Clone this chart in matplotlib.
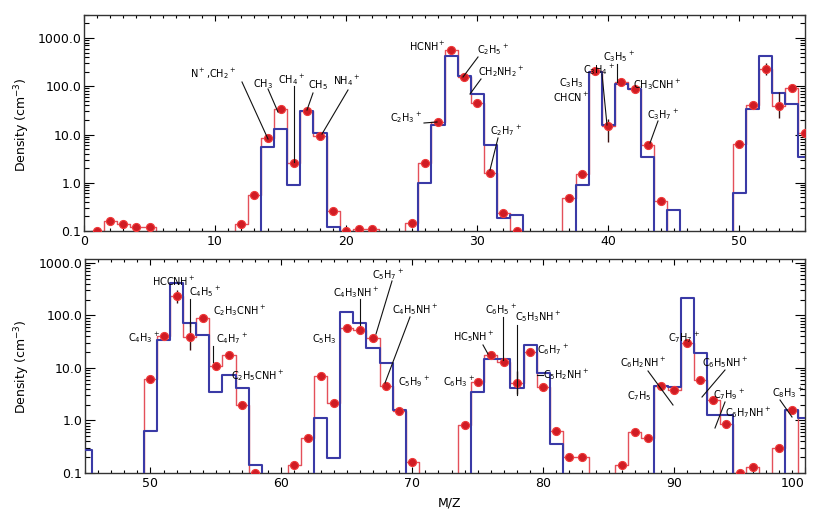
import numpy as np
import matplotlib
matplotlib.use('Agg')
import matplotlib.pyplot as plt
from matplotlib.lines import Line2D
from matplotlib.ticker import LogLocator, MultipleLocator, FuncFormatter, NullFormatter

plt.rcParams['font.family'] = ['DejaVu Sans']
plt.rcParams['mathtext.default'] = 'regular'

W, H = 813, 509

# ---- data ----
obs_mass = [1, 2, 3, 4, 5, 12, 13, 14, 15, 16, 17, 18, 19, 20, 21, 22,
            25, 26, 27, 28, 29, 30, 31, 32, 33,
            37, 38, 39, 40, 41, 42, 43, 44,
            50, 51, 52, 53, 54, 55, 56, 57, 58,
            61, 62, 63, 64, 65, 66, 67, 68, 69, 70,
            74, 75, 76, 77, 78, 79, 80, 81, 82, 83,
            86, 87, 88, 89, 90, 91, 92, 93, 94, 95, 96, 98, 99]
obs_density = [0.1, 0.16, 0.14, 0.12, 0.12, 0.14, 0.55, 8.3, 33, 2.6, 30, 9.3, 0.26, 0.1, 0.11, 0.11,
               0.15, 2.6, 18.5, 560, 155, 46, 1.6, 0.24, 0.1,
               0.49, 1.5, 205, 15, 120, 87, 6.2, 0.42,
               6.3, 40, 230, 39, 90, 11, 18, 2.0, 0.1,
               0.14, 0.46, 7.1, 2.2, 58, 53, 37, 4.5, 1.5, 0.16,
               0.82, 5.4, 18, 13, 5.2, 20, 4.4, 0.63, 0.2, 0.2,
               0.14, 0.6, 0.46, 4.6, 3.8, 30, 5.9, 2.5, 0.86, 0.1, 0.13, 0.3, 1.6]

model_mass = [14, 15, 16, 17, 18, 19,
              26, 27, 28, 29, 30, 31, 32, 33,
              38, 39, 40, 41, 42, 43, 45,
              50, 51, 52, 53, 54, 55, 56, 57, 58,
              63, 64, 65, 66, 67, 68, 69,
              75, 76, 77, 78, 79, 80, 81,
              89, 90, 91, 92, 93, 94, 99, 100]
model_density = [5.5, 13, 0.9, 30, 11, 0.12,
                 1.0, 16, 420, 160, 68, 6.2, 0.19, 0.21,
                 0.9, 200, 16, 110, 87, 3.5, 0.27,
                 0.62, 34, 420, 72, 42, 3.5, 7.5, 4.2, 0.14,
                 1.1, 0.19, 115, 72, 24, 12.5, 1.6,
                 3.5, 15, 15, 4.2, 27, 8, 0.35,
                 4.6, 4.4, 215, 19.5, 1.3, 1.3, 1.6, 1.1]

err_mass = [40, 52, 53, 78]
err_low = [7, 170, 22, 3.2]
err_high = [21, 300, 76, 8.9]

top_labels = [
    (r'N$^+$,CH$_2$$^+$', 190, 74, (242, 82, 268, 139)),
    (r'CH$_3$', 253, 84, (268, 89, 278, 112)),
    (r'CH$_4$$^+$', 278, 80, (294, 86, 294, 162)),
    (r'CH$_5$', 308, 85, (313, 93, 307, 110)),
    (r'NH$_4$$^+$', 333, 81, (348, 90, 322, 134)),
    (r'C$_2$H$_3$$^+$', 390, 118, (424, 123, 437, 122)),
    (r'HCNH$^+$', 409, 46, None),
    (r'C$_2$H$_5$$^+$', 477, 50, (478, 57, 463, 77)),
    (r'CH$_2$NH$_2$$^+$', 478, 72, (481, 79, 470, 94)),
    (r'C$_2$H$_7$$^+$', 490, 131, (498, 138, 490, 170)),
    (r'C$_3$H$_3$', 559, 83, None),
    (r'CHCN$^+$', 553, 97, None),
    (r'C$_3$H$_4$$^+$', 583, 70, (602, 74, 607, 125)),
    (r'C$_3$H$_5$$^+$', 603, 57, (617, 64, 617, 82)),
    (r'CH$_3$CNH$^+$', 633, 85, None),
    (r'C$_3$H$_7$$^+$', 647, 115, (658, 121, 650, 143)),
]
bottom_labels = [
    (r'C$_4$H$_3$$^+$', 128, 338, None),
    (r'HCCNH$^+$', 152, 281, None),
    (r'C$_4$H$_5$$^+$', 189, 292, (190, 299, 190, 326)),
    (r'C$_2$H$_3$CNH$^+$', 213, 311, None),
    (r'C$_4$H$_7$$^+$', 216, 339, (213, 346, 213, 362)),
    (r'C$_2$H$_5$CNH$^+$', 231, 376, None),
    (r'C$_5$H$_3$', 312, 339, None),
    (r'C$_4$H$_3$NH$^+$', 333, 293, (360, 299, 360, 325)),
    (r'C$_5$H$_7$$^+$', 372, 275, (392, 281, 376, 334)),
    (r'C$_4$H$_5$NH$^+$', 392, 310, (410, 317, 385, 383)),
    (r'C$_5$H$_9$$^+$', 398, 382, None),
    (r'C$_6$H$_3$$^+$', 443, 382, None),
    (r'HC$_5$NH$^+$', 453, 337, (483, 345, 488, 354)),
    (r'C$_6$H$_5$$^+$', 485, 310, (503, 317, 503, 360)),
    (r'C$_5$H$_3$NH$^+$', 515, 317, (517, 325, 517, 395)),
    (r'C$_6$H$_7$$^+$', 537, 350, None),
    (r'C$_5$H$_2$NH$^+$', 543, 375, (537, 375, 543, 375)),
    (r'C$_6$H$_2$NH$^+$', 620, 363, (648, 371, 673, 405)),
    (r'C$_7$H$_5$', 627, 396, None),
    (r'C$_7$H$_7$$^+$', 668, 338, None),
    (r'C$_6$H$_5$NH$^+$', 702, 363, (725, 370, 702, 397)),
    (r'C$_7$H$_9$$^+$', 713, 395, (725, 402, 715, 428)),
    (r'C$_6$H$_7$NH$^+$', 725, 413, None),
    (r'C$_8$H$_3$$^+$', 772, 393, (780, 400, 792, 417)),
]

# ---- figure ----
fig = plt.figure(figsize=(W / 100, H / 100), dpi=100)
ax_top = fig.add_axes([84 / W, 1 - 231 / H, 721 / W, 216 / H])
ax_bot = fig.add_axes([85 / W, 1 - 473 / H, 720 / W, 214 / H])

grid = np.arange(0, 102)


def full(ms, ds):
    arr = np.full(grid.shape, 1e-3)
    arr[np.array(ms)] = ds
    return arr


red_full = full(obs_mass, obs_density)
blue_full = full(model_mass, model_density)

RED_LINE = '#e4505a'
BLUE_LINE = '#3a3aa6'

for ax, xl, yl in [(ax_top, (0, 55), (0.1, 3000)), (ax_bot, (45, 100), (0.1, 1190))]:
    ax.step(grid, red_full, where='mid', color=RED_LINE, lw=1.0, zorder=2)
    ax.step(grid, blue_full, where='mid', color=BLUE_LINE, lw=1.5, zorder=3)
    ax.vlines(err_mass, err_low, err_high, color='#3a1010', lw=1.0, zorder=4)
    ax.plot(obs_mass, obs_density, 'o', ms=5.8, mfc='#d01c24', mec='#f03a3a', mew=0.8, zorder=5)
    ax.set_yscale('log')
    ax.set_xlim(*xl)
    ax.set_ylim(*yl)
    ax.yaxis.set_major_locator(LogLocator(base=10, numticks=10))
    ax.yaxis.set_minor_locator(LogLocator(base=10, subs=np.arange(2, 10), numticks=20))
    ax.yaxis.set_major_formatter(FuncFormatter(lambda v, p: f'{v:.1f}'))
    ax.yaxis.set_minor_formatter(NullFormatter())
    ax.xaxis.set_major_locator(MultipleLocator(10))
    ax.xaxis.set_minor_locator(MultipleLocator(1))
    ax.tick_params(which='both', direction='in', top=True, right=True, width=0.8)
    ax.tick_params(axis='y', which='major', length=7, labelsize=9, pad=2)
    ax.tick_params(axis='y', which='minor', length=3.5)
    ax.tick_params(axis='x', which='major', length=4, labelsize=9, pad=3)
    ax.tick_params(axis='x', which='minor', length=2)
    for sp in ax.spines.values():
        sp.set_linewidth(1.0)
        sp.set_color('#333333')

# keep the last bottom tick label inside the figure
fig.canvas.draw()
for lbl in ax_bot.get_xticklabels():
    if lbl.get_text() == '100':
        lbl.set_horizontalalignment('right')

# y labels
fig.text(22 / W, 1 - 125 / H, r'Density (cm$^{-3}$)', rotation=90, ha='center', va='center', fontsize=9)
fig.text(22 / W, 1 - 367 / H, r'Density (cm$^{-3}$)', rotation=90, ha='center', va='center', fontsize=9)
fig.text(449 / W, 1 - 503 / H, 'M/Z', ha='center', va='center', fontsize=9)

for lab, x, y, line in top_labels + bottom_labels:
    fig.text(x / W, 1 - y / H, lab, ha='left', va='center', fontsize=7, zorder=6)
    if line is not None:
        x0, y0, x1, y1 = line
        fig.add_artist(Line2D([x0 / W, x1 / W], [1 - y0 / H, 1 - y1 / H],
                              transform=fig.transFigure, color='#111111', lw=0.8, zorder=6))

fig.savefig('out.png', dpi=100)
